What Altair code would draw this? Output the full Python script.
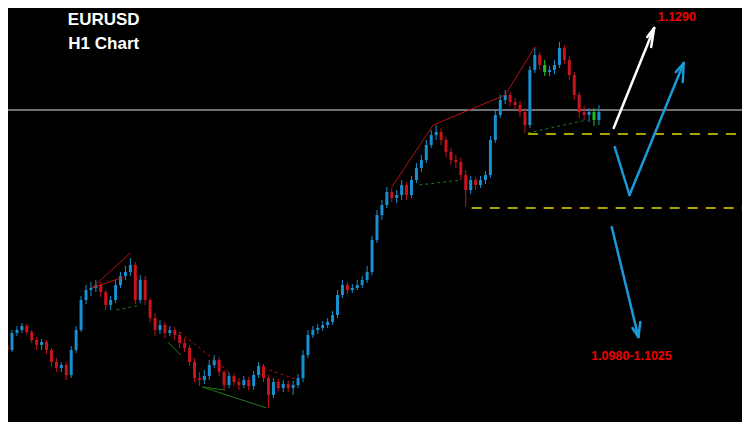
import altair as alt
import pandas as pd

# Price origin: all offsets below are "pips below TOP"
TOP = 1.1318
PIP = 0.0001

# ---- hourly candles (pips below TOP) ----
open_p = [345,350,333,330,326,332,340,345,342,350,
          362,368,365,375,350,330,300,290,288,285,
          292,305,300,285,276,272,265,300,280,300,
          318,330,325,333,330,335,343,348,362,378,
          380,376,365,360,372,385,376,382,385,380,
          386,375,366,378,395,382,388,384,388,385,
          378,355,335,330,328,325,322,315,295,285,
          290,288,285,280,272,240,215,205,192,198,
          195,185,195,180,168,160,145,135,132,140,
          152,160,162,175,190,180,185,180,175,140,
          115,100,95,102,105,112,125,70,55,65,
          72,70,65,48,60,75,95,112,115,112,
          120]
close_p = [350,333,330,326,332,340,345,342,350,362,
           368,365,375,350,330,300,290,288,285,292,
           305,300,285,276,272,265,300,280,300,318,
           330,325,333,330,335,343,348,362,378,380,
           376,365,360,372,385,376,382,385,380,386,
           375,366,378,395,382,388,384,388,385,378,
           355,335,330,328,325,322,315,295,285,290,
           288,285,280,272,240,215,205,192,198,195,
           185,195,180,168,160,145,135,132,140,152,
           160,162,175,190,180,185,180,175,140,115,
           100,95,102,105,112,125,70,55,65,72,
           70,65,48,60,75,95,112,115,112,120,
           112]
high_p = [340,330,326,323,324,330,337,339,340,348,
          358,362,362,346,326,296,285,282,280,282,
          290,296,280,272,266,258,262,275,276,298,
          313,320,322,326,327,332,338,345,358,372,
          370,360,355,357,370,372,373,378,376,377,
          371,362,364,375,378,379,380,381,381,374,
          350,330,326,324,321,318,311,290,280,282,
          284,280,276,266,236,210,200,187,188,190,
          180,182,176,163,155,140,130,125,128,137,
          148,155,158,170,176,177,176,171,136,110,
          95,90,92,98,101,108,66,47,52,60,
          66,60,42,45,56,72,92,106,108,108,
          105]
low_p = [356,352,336,333,335,343,350,350,354,366,
         372,372,380,378,353,332,304,296,292,297,
         310,310,303,288,280,276,304,303,305,322,
         336,334,338,336,340,348,352,366,382,386,
         384,380,368,376,390,388,386,390,388,390,
         390,378,382,408,398,391,392,392,395,388,
         382,358,338,334,331,328,325,318,298,294,
         293,290,288,283,275,243,220,208,202,203,
         200,200,198,183,172,163,148,140,145,157,
         165,168,180,207,194,190,188,184,178,143,
         118,104,106,110,117,133,128,73,70,76,
         76,74,68,64,80,100,118,120,122,126,
         125]
green_bars = [109, 119]

# ---- levels ----
current_level = 110          # grey horizontal line
zone_upper = 134             # yellow dashed levels
zone_lower = 208
zone_upper_start, zone_lower_start, zone_end = 105.6, 94.2, 152

# ---- pattern lines: (bar1, pips1, bar2, pips2) ----
red_solid = [(17.2, 288, 25, 253), (17.2, 288, 23.6, 277),
             (78, 187, 86.4, 125), (86.4, 125, 101, 95), (101, 95, 107, 47)]
red_dashed = [(35, 332, 45, 372), (52, 368, 59, 380)]
green_solid = [(32.6, 342, 35.2, 355), (39.6, 387, 52.6, 408), (39.6, 387, 44.2, 390)]
green_dashed = [(22.2, 310, 27, 305), (83.6, 185, 92, 180), (105.6, 133, 117.6, 120)]

# ---- forecast arrows ----
white_arrow = [(123, 128, 131.2, 28), (131.2, 28, 129.8, 37), (131.2, 28, 130.6, 47)]
blue_arrows = [(123.2, 147, 126.2, 195), (126.2, 195, 137.2, 63),
               (137.2, 63, 135.6, 72), (137.2, 63, 137, 82),
               (122.6, 227, 128, 337), (128, 337, 126.8, 328), (128, 337, 128.4, 322)]

# ---- texts: (bar, pips, text) ----
title_texts = [(19.6, 20, "EURUSD"), (19.6, 44, "H1 Chart")]
target_texts = [(135.8, 17, "1.1290"), (126.6, 356, "1.0980-1.1025")]

def px(v):
    return TOP - v * PIP

n = len(close_p)
kind = []
for i in range(n):
    if i in green_bars:
        kind.append("green")
    elif close_p[i] < open_p[i]:
        kind.append("up")
    else:
        kind.append("down")
candles = pd.DataFrame({
    "bar": list(range(n)),
    "open": [px(v) for v in open_p],
    "close": [px(v) for v in close_p],
    "high": [px(v) for v in high_p],
    "low": [px(v) for v in low_p],
    "kind": kind,
})

def seg_df(segs):
    return pd.DataFrame({"x": [s[0] for s in segs], "y": [px(s[1]) for s in segs],
                         "x2": [s[2] for s in segs], "y2": [px(s[3]) for s in segs]})

xs = alt.Scale(domain=[1.2, 148], nice=False, zero=False)
ys = alt.Scale(domain=[px(422), px(8)], nice=False, zero=False)
X = lambda f: alt.X(f, type="quantitative", scale=xs, axis=None)
Y = lambda f: alt.Y(f, type="quantitative", scale=ys, axis=None)

color = alt.Color("kind:N", scale=alt.Scale(domain=["up", "down", "green"],
                                            range=["#1a8fd0", "#c8141c", "#20c020"]), legend=None)

base = alt.Chart(candles)
wicks = base.mark_rule(strokeWidth=1, clip=True).encode(x=X("bar"), y=Y("low"), y2="high", color=color)
bodies = base.mark_bar(size=3, clip=True).encode(x=X("bar"), y=Y("open"), y2="close", color=color)

level = alt.Chart(pd.DataFrame({"y": [px(current_level)]})).mark_rule(
    color="#6e6e74", strokeWidth=2).encode(y=Y("y"))

zones = alt.Chart(pd.DataFrame({
    "x": [zone_upper_start, zone_lower_start], "x2": [zone_end, zone_end],
    "y": [px(zone_upper), px(zone_lower)]})).mark_rule(
    color="#aaa400", strokeWidth=2, strokeDash=[10, 8], clip=True).encode(x=X("x"), x2="x2", y=Y("y"))

def segs(data, **kw):
    return alt.Chart(seg_df(data)).mark_rule(clip=True, **kw).encode(
        x=X("x"), y=Y("y"), x2="x2", y2="y2")

layers = [
    level, zones,
    segs(green_solid, color="#1f7a1f", strokeWidth=1),
    segs(green_dashed, color="#1f7a1f", strokeWidth=1, strokeDash=[3, 3]),
    wicks, bodies,
    segs(red_solid, color="#b81010", strokeWidth=1),
    segs(red_dashed, color="#b81010", strokeWidth=1, strokeDash=[3, 3]),
    segs(white_arrow, color="#ffffff", strokeWidth=2.5, strokeCap="round"),
    segs(blue_arrows, color="#1a9ad8", strokeWidth=2.5, strokeCap="round"),
]

tdf = pd.DataFrame({"x": [t[0] for t in title_texts], "y": [px(t[1]) for t in title_texts],
                    "t": [t[2] for t in title_texts]})
layers.append(alt.Chart(tdf).mark_text(font="Liberation Sans", fontWeight="bold", fontSize=17,
                                       color="white", align="center", baseline="middle").encode(
    x=X("x"), y=Y("y"), text="t:N"))
rdf = pd.DataFrame({"x": [t[0] for t in target_texts], "y": [px(t[1]) for t in target_texts],
                    "t": [t[2] for t in target_texts]})
layers.append(alt.Chart(rdf).mark_text(font="Liberation Sans", fontWeight="bold", fontSize=12.5,
                                       color="#f00000", align="center", baseline="middle").encode(
    x=X("x"), y=Y("y"), text="t:N"))

chart = alt.layer(*layers).properties(
    width=734, height=414, padding=0,
    autosize=alt.AutoSizeParams(type="none"),
    background="black",
).configure_view(stroke=None)

chart.save("out.html", embed_options={"renderer": "svg", "actions": False})
